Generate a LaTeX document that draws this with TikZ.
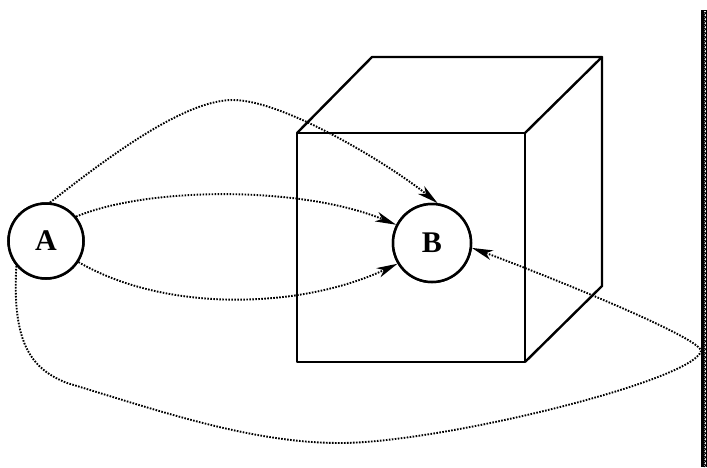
\documentclass[tikz,border=0pt]{standalone}
\usepackage{fontspec}
\setmainfont{Liberation Serif}
\usetikzlibrary{arrows.meta,decorations.pathmorphing}
\begin{document}
\begin{tikzpicture}[x=1pt,y=-1pt,
  cubeline/.style={line width=2.4pt, line join=round},
  place/.style={circle, draw, line width=2.5pt, fill=white, inner sep=0pt,
    font=\fontsize{30}{30}\selectfont\bfseries},
  flow/.style={line width=1.9pt, dash pattern=on 1.6pt off 1.4pt},
  tip/.style={-{Stealth[length=21pt,width=10pt,inset=6pt]}},
  strip/.style={line width=1.4pt}
]
\fill[white] (0,0) rectangle (707,467);
\useasboundingbox (0,0) rectangle (707,467);

% circles (placed first so anchors exist)
\node[place, minimum size=75pt] (A) at (46,241) {A};
\node[place, minimum size=78pt] (B) at (432,243) {B};

% helper coordinates
\coordinate (p1) at (233,100);
\coordinate (c1) at (67,383);
\coordinate (c2) at (340,443);
\coordinate (c3) at (701,351);

% dotted connectors
\draw[flow, tip] (A.84) .. controls +(70,-55) and +(-45,0) .. (p1)
  .. controls +(50,0) and +(-50,-40) .. (B.82);
\draw[flow, tip] (A.39) .. controls +(72,-30) and +(-95,-39) .. (B.153);
\draw[flow, tip] (A.-33) .. controls +(88,51) and +(-96,45) .. (B.211);
\draw[flow, tip] (A.220) .. controls (12,345) and +(-35,-14) .. (c1)
  .. controls +(90,27) and +(-90,0) .. (c2)
  .. controls +(100,0) and +(-8,30) .. (c3)
  .. controls +(0,-14) and +(60,22) .. (B.-7);

% cube
\draw[cubeline] (297,133) rectangle (525,362);
\draw[cubeline] (297,133) -- (372,57) -- (602,57) -- (525,133);
\draw[cubeline] (602,57) -- (602,286) -- (525,362);

% redraw circles on top
\node[place, minimum size=75pt] at (A) {A};
\node[place, minimum size=78pt] at (B) {B};

% right strip
\draw[line width=2.8pt] (702.5,467) -- (702.5,10);
\draw[strip] (702,10.7) -- (706.3,10.7) -- (706.3,467);
\draw[decorate, decoration={snake, amplitude=1.3pt, segment length=4pt}, line width=1.1pt]
  (704.5,12) -- (704.5,467);
\end{tikzpicture}
\end{document}
